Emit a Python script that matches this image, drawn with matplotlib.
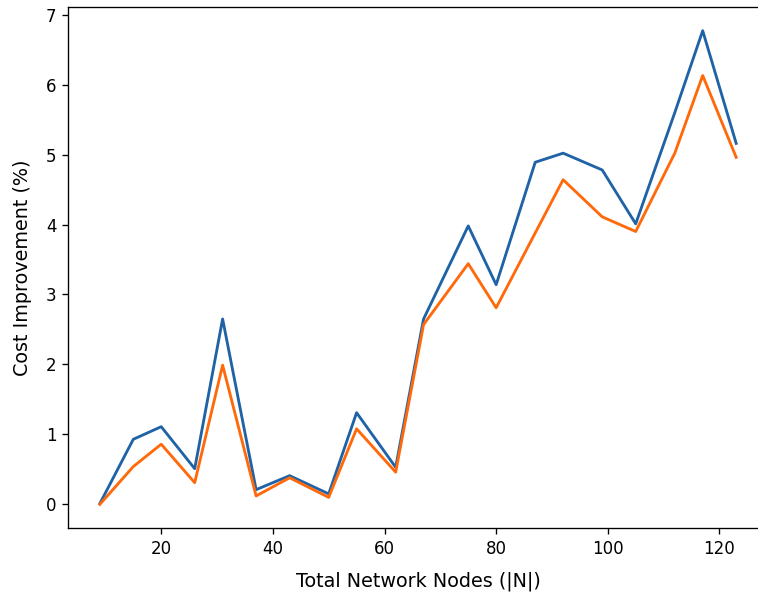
import matplotlib
matplotlib.use("Agg")
import matplotlib.pyplot as plt

# data
nodes = [9, 15, 20, 26, 31, 37, 43, 50, 55, 62, 67, 75, 80, 87, 92, 99, 105, 112, 117, 123]
series_a = [0.01, 0.93, 1.11, 0.51, 2.65, 0.21, 0.41, 0.15, 1.31, 0.53,
            2.65, 3.98, 3.14, 4.89, 5.02, 4.78, 4.01, 5.60, 6.77, 5.16]
series_b = [0.0, 0.54, 0.86, 0.31, 1.99, 0.12, 0.38, 0.10, 1.08, 0.46,
            2.57, 3.44, 2.81, 3.88, 4.64, 4.11, 3.90, 5.02, 6.13, 4.96]

fig = plt.figure(figsize=(758 / 120, 598 / 120), dpi=120)
# axes run slightly past the right edge, like the cropped reference
ax = fig.add_axes([0.0897, 0.117, 0.9235, 0.8712])

ax.plot(nodes, series_a, color="#1f63a6", linewidth=1.7)
ax.plot(nodes, series_b, color="#ff690a", linewidth=1.7)

ax.set_xlabel("Total Network Nodes (|N|)", fontsize=11.5, labelpad=8)
ax.set_ylabel("Cost Improvement (%)", fontsize=11.5, labelpad=8)

fig.savefig("out.png", dpi=120)
